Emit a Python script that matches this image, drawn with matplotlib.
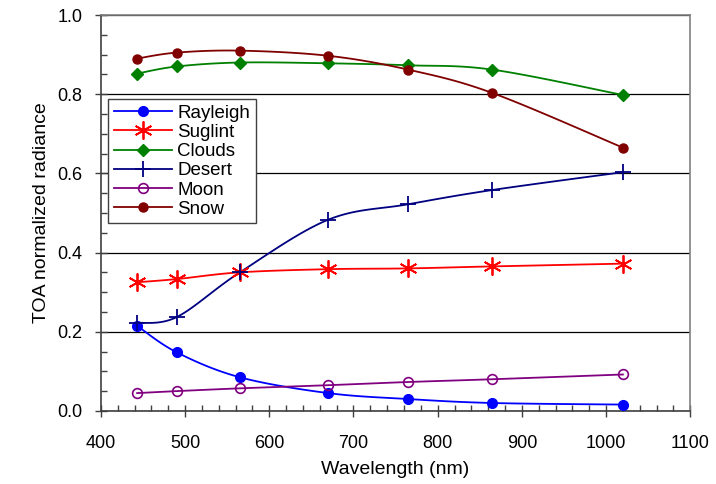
import numpy as np
import matplotlib
matplotlib.use("Agg")
import matplotlib.pyplot as plt
from matplotlib.ticker import MultipleLocator

plt.rcParams['font.family'] = ['Liberation Sans', 'DejaVu Sans']

wavelength = [443, 490, 565, 670, 765, 865, 1020]
rayleigh = [0.215, 0.148, 0.085, 0.045, 0.030, 0.020, 0.016]
suglint = [0.325, 0.333, 0.350, 0.358, 0.360, 0.365, 0.372]
clouds = [0.852, 0.870, 0.880, 0.878, 0.873, 0.862, 0.798]
desert = [0.222, 0.237, 0.350, 0.483, 0.522, 0.558, 0.603]
moon = [0.045, 0.050, 0.057, 0.065, 0.073, 0.080, 0.092]
snow = [0.890, 0.905, 0.910, 0.897, 0.862, 0.803, 0.665]

series = [
    ("Rayleigh", rayleigh, '#0000ff', dict(marker='o', ms=7, mfc='#0000ff')),
    ("Suglint", suglint, '#ff0000', dict(marker=(6, 2, 0), ms=13, mew=1.3)),
    ("Clouds", clouds, '#008000', dict(marker='D', ms=6.5, mfc='#008000')),
    ("Desert", desert, '#000080', dict(marker='+', ms=11, mew=1.3)),
    ("Moon", moon, '#800080', dict(marker='o', ms=7, mfc='none', mew=1.2)),
    ("Snow", snow, '#800000', dict(marker='o', ms=6.5, mfc='#800000')),
]


def smooth(x, y, n=20):
    # catmull-rom style curve through the points, like a spreadsheet's smoothed line
    p = np.column_stack([x, y]).astype(float)
    p = np.vstack([p[0], p, p[-1]])
    out = []
    t = np.linspace(0, 1, n, endpoint=False)[:, None]
    for i in range(1, len(p) - 2):
        p0, p1, p2, p3 = p[i - 1], p[i], p[i + 1], p[i + 2]
        c1 = p1 + (p2 - p0) / 6.0
        c2 = p2 - (p3 - p1) / 6.0
        seg = ((1 - t) ** 3) * p1 + 3 * ((1 - t) ** 2) * t * c1 + 3 * (1 - t) * t ** 2 * c2 + t ** 3 * p2
        out.append(seg)
    out.append(p[-2][None, :])
    out = np.vstack(out)
    return out[:, 0], out[:, 1]


fig = plt.figure(figsize=(7.16, 4.84), dpi=100)
ax = fig.add_axes([0.141, 0.151, 0.823, 0.818])

for label, vals, col, mk in series:
    sx, sy = smooth(wavelength, vals)
    ax.plot(sx, sy, color=col, lw=1.3, zorder=3)
    ax.plot(wavelength, vals, ls='none', color=col, mec=col, zorder=4, **mk)
    # legend proxy
    ax.plot([], [], color=col, lw=1.3, mec=col, label=label, **mk)

ax.set_xlim(400, 1100)
ax.set_ylim(0, 1.0)
ax.xaxis.set_major_locator(MultipleLocator(100))
ax.xaxis.set_minor_locator(MultipleLocator(20))
ax.yaxis.set_major_locator(MultipleLocator(0.2))
ax.yaxis.set_minor_locator(MultipleLocator(0.05))
ax.yaxis.set_major_formatter(matplotlib.ticker.FormatStrFormatter('%.1f'))

ax.grid(True, axis='y', which='major', color='black', lw=0.9)
ax.tick_params(which='major', direction='inout', length=9, width=1, colors='#404040', labelsize=13)
ax.tick_params(which='minor', direction='in', length=4, width=1, colors='#404040')
ax.tick_params(labelcolor='black')
ax.tick_params(axis='x', which='major', pad=13)
ax.tick_params(axis='y', which='major', pad=9)
for sp in ax.spines.values():
    sp.set_color('#808080')
    sp.set_linewidth(1.2)
ax.spines['left'].set_color('#404040')
ax.spines['bottom'].set_color('#404040')

ax.set_xlabel("Wavelength (nm)", fontsize=14, labelpad=6)
ax.set_ylabel("TOA normalized radiance", fontsize=14, labelpad=5)

leg = ax.legend(loc='upper left', bbox_to_anchor=(0.0055, 0.797), fontsize=13.5,
                frameon=True, fancybox=False, edgecolor='#404040', framealpha=1,
                borderpad=0.3, labelspacing=0.11, handlelength=3.1, handletextpad=0.3,
                borderaxespad=0.2, numpoints=1)
leg.get_frame().set_linewidth(1.0)
leg.set_zorder(5)

fig.savefig("out.png", dpi=100)
